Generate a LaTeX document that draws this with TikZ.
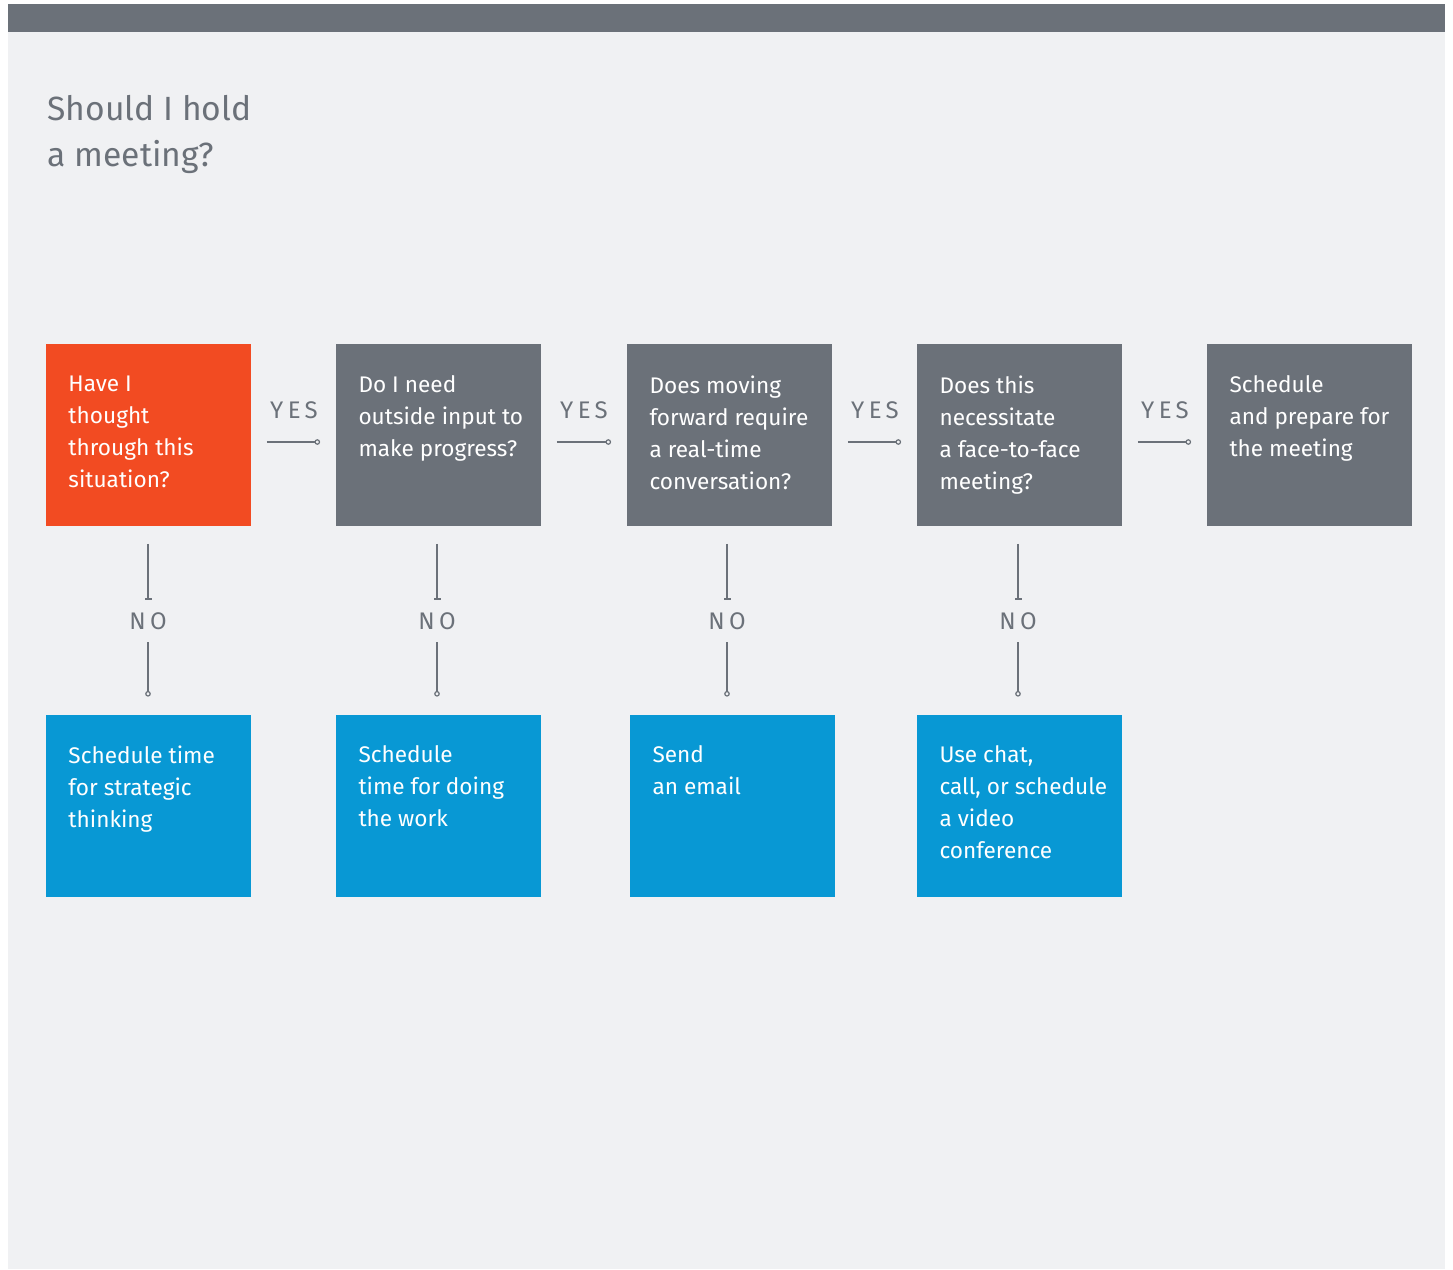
\documentclass[tikz,border=0pt]{standalone}
\usepackage{fontspec}
\setmainfont{Fira Sans}
\usetikzlibrary{arrows.meta}

\definecolor{panelbg}{HTML}{F0F1F3}
\definecolor{slate}{HTML}{6B7179}
\definecolor{flame}{HTML}{F24B22}
\definecolor{sky}{HTML}{0898D4}

\tikzset{
  box/.style={rectangle, minimum width=102.5pt, minimum height=91pt, inner sep=0pt},
  boxtext/.style={anchor=north west, inner sep=0pt, align=left, text=white,
    font=\fontsize{11.3pt}{16pt}\selectfont},
  answer/.style={inner sep=0pt, text=slate,
    font=\fontsize{12pt}{16pt}\selectfont\addfontfeature{LetterSpace=18}},
  nolabel/.style={answer, minimum height=21pt},
  link/.style={draw=slate, line width=0.6pt},
  yesend/.style={link, -{Circle[open, length=2.8pt]}},
  noend/.style={link, -{Bar[width=3.5pt]}},
}

\begin{document}
\begin{tikzpicture}[x=0.5pt, y=-0.5pt]
    \useasboundingbox (0,0) rectangle (1453,1270);
    % panel and top bar
    \fill[white] (0,0) rectangle (1453,1270);
    \fill[panelbg] (8,4) rectangle (1445,1269);
    \fill[slate] (8,4) rectangle (1445,32);

    \node[anchor=north west, inner sep=0pt, align=left, text=slate,
      font=\fontsize{16.8pt}{23pt}\selectfont] (title) at (47,95) {Should I hold\\a meeting?};

    % question row
    \node[box, fill=flame] (q1) at (148,434.5) {};
    \node[box, fill=slate] (q2) at (438,434.5) {};
    \node[box, fill=slate] (q3) at (729,434.5) {};
    \node[box, fill=slate] (q4) at (1019,434.5) {};
    \node[box, fill=slate] (q5) at (1309,434.5) {};

    \node[boxtext] (q1text) at ([shift={(23,32)}]q1.north west) {Have I\\thought\\through this\\situation?};
    \node[boxtext] (q2text) at ([shift={(23,32)}]q2.north west) {Do I need\\outside input to\\make progress?};
    \node[boxtext] (q3text) at ([shift={(23,32)}]q3.north west) {Does moving\\forward require\\a real-time\\conversation?};
    \node[boxtext] (q4text) at ([shift={(23,32)}]q4.north west) {Does this\\necessitate\\a face-to-face\\meeting?};
    \node[boxtext] (q5text) at ([shift={(23,32)}]q5.north west) {Schedule\\and prepare for\\the meeting};

    % outcome row
    \node[box, fill=sky] (a1) at (148,805.5) {};
    \node[box, fill=sky] (a2) at (438,805.5) {};
    \node[box, fill=sky] (a3) at (732,805.5) {};
    \node[box, fill=sky] (a4) at (1019,805.5) {};

    \node[boxtext] (a1text) at ([shift={(23,31.5)}]a1.north west) {Schedule time\\for strategic\\thinking};
    \node[boxtext] (a2text) at ([shift={(23,31.5)}]a2.north west) {Schedule\\time for doing\\the work};
    \node[boxtext] (a3text) at ([shift={(23,31.5)}]a3.north west) {Send\\an email};
    \node[boxtext] (a4text) at ([shift={(23,31.5)}]a4.north west) {Use chat,\\call, or schedule\\a video\\conference};

    % yes links
    \node[answer] (yes1) at (294,410.5) {YES};
    \node[answer] (yes2) at (584,410.5) {YES};
    \node[answer] (yes3) at (875,410.5) {YES};
    \node[answer] (yes4) at (1165,410.5) {YES};

    \draw[yesend] ([shift={(16,7.5)}]q1.east) -- ([shift={(-15,7.5)}]q2.west);
    \draw[yesend] ([shift={(16,7.5)}]q2.east) -- ([shift={(-15,7.5)}]q3.west);
    \draw[yesend] ([shift={(16,7.5)}]q3.east) -- ([shift={(-15,7.5)}]q4.west);
    \draw[yesend] ([shift={(16,7.5)}]q4.east) -- ([shift={(-15,7.5)}]q5.west);

    % no links
    \node[nolabel] (no1) at (148,621) {NO};
    \node[nolabel] (no2) at (437,621) {NO};
    \node[nolabel] (no3) at (727,621) {NO};
    \node[nolabel] (no4) at (1018,621) {NO};

    \draw[noend] ([shift={(0,18)}]q1.south) -- (no1.north);
    \draw[noend] ([shift={(-1,18)}]q2.south) -- (no2.north);
    \draw[noend] ([shift={(-2,18)}]q3.south) -- (no3.north);
    \draw[noend] ([shift={(-1,18)}]q4.south) -- (no4.north);

    \draw[yesend] (no1.south) -- ([shift={(0,-17.5)}]a1.north);
    \draw[yesend] (no2.south) -- ([shift={(-1,-17.5)}]a2.north);
    \draw[yesend] (no3.south) -- ([shift={(-5,-17.5)}]a3.north);
    \draw[yesend] (no4.south) -- ([shift={(-1,-17.5)}]a4.north);
\end{tikzpicture}
\end{document}
